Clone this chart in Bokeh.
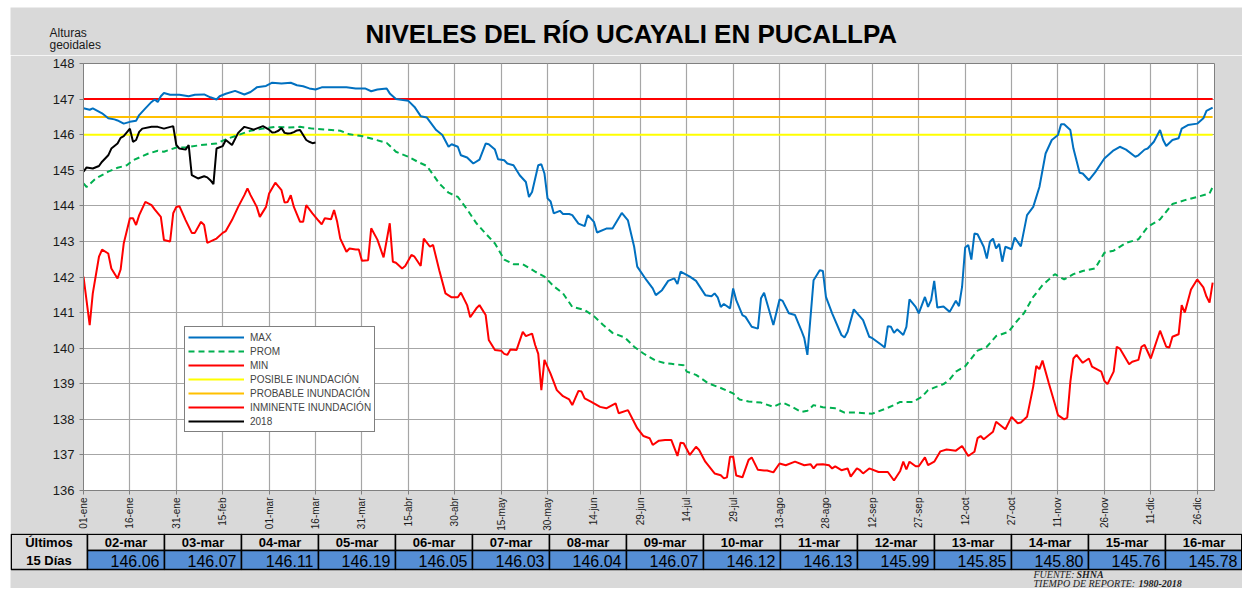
import math
from bokeh.plotting import figure
from bokeh.models import Range1d, FixedTicker, Legend, LegendItem
from bokeh.layouts import column
from bokeh.embed import file_html
from bokeh.resources import INLINE
from bokeh.core.properties import value

FONT = "Liberation Sans"
SERIF = "Liberation Serif"
BG = "#d9d9d9"

# ---------------- data ----------------
tick_days = list(range(0, 361, 15))
tick_labels = ["01-ene", "16-ene", "31-ene", "15-feb", "01-mar", "16-mar", "31-mar",
               "15-abr", "30-abr", "15-may", "30-may", "14-jun", "29-jun", "14-jul",
               "29-jul", "13-ago", "28-ago", "12-sep", "27-sep", "12-oct", "27-oct",
               "11-nov", "26-nov", "11-dic", "26-dic"]
y_ticks = list(range(136, 149))

max_days = [0, 2, 3, 6, 8, 10, 11, 13, 15, 17, 18, 20, 22, 23, 24, 25, 26, 28, 31, 34, 36, 39, 41, 43, 44,
            46, 49, 52, 54, 56, 59, 61, 64, 67, 69, 71, 73, 75, 77, 81, 85, 88, 91, 93, 95, 98, 99, 101,
            105, 107, 109, 111, 114, 116, 118, 119, 121, 122, 124, 126, 128, 130, 131, 133, 134, 136,
            137, 139, 141, 143, 144, 145, 147, 148, 149, 150, 151, 152, 154, 155, 157, 158, 160, 162,
            163, 165, 166, 169, 171, 174, 176, 178, 179, 182, 184, 185, 187, 189, 191, 192, 193, 196,
            198, 201, 203, 204, 205, 206, 207, 209, 210, 211, 213, 214, 216, 218, 219, 220, 223, 225,
            226, 228, 230, 232, 233, 234, 236, 238, 239, 240, 242, 245, 246, 247, 249, 252, 254, 255,
            258, 259, 260, 261, 262, 263, 265, 266, 267, 269, 270, 272, 273, 274, 275, 276, 278, 280,
            282, 283, 284, 285, 286, 287, 288, 289, 291, 292, 293, 294, 295, 296, 297, 298, 300, 301,
            303, 305, 307, 309, 311, 313, 315, 316, 317, 319, 320, 322, 323, 325, 327, 330, 333, 335,
            337, 340, 341, 343, 344, 346, 348, 349, 350, 352, 354, 355, 357, 360, 362, 363, 365]
max_vals = [146.74, 146.70, 146.74, 146.60, 146.46, 146.43, 146.40, 146.31, 146.36, 146.39, 146.55,
            146.74, 146.92, 146.99, 146.92, 147.08, 147.17, 147.12, 147.12, 147.08, 147.12, 147.13,
            147.05, 146.99, 147.08, 147.15, 147.23, 147.13, 147.20, 147.33, 147.37, 147.46, 147.44,
            147.46, 147.39, 147.36, 147.30, 147.27, 147.33, 147.33, 147.33, 147.30, 147.30, 147.22,
            147.27, 147.30, 147.16, 147.00, 146.95, 146.78, 146.52, 146.48, 146.13, 145.99, 145.66,
            145.73, 145.66, 145.42, 145.36, 145.19, 145.30, 145.75, 145.73, 145.58, 145.31, 145.28,
            145.19, 145.14, 144.86, 144.67, 144.25, 144.39, 145.14, 145.17, 144.91, 144.21, 144.12,
            143.79, 143.86, 143.77, 143.77, 143.74, 143.50, 143.43, 143.74, 143.55, 143.25, 143.36,
            143.36, 143.80, 143.59, 142.85, 142.29, 141.91, 141.68, 141.49, 141.63, 141.89, 141.96,
            141.80, 142.15, 142.01, 141.89, 141.49, 141.46, 141.54, 141.43, 141.16, 141.24, 141.12,
            141.68, 141.35, 140.93, 140.88, 140.60, 140.55, 141.40, 141.56, 140.65, 141.37, 141.33,
            140.98, 140.93, 140.51, 140.28, 139.81, 141.91, 142.19, 142.17, 141.44, 140.98, 140.37,
            140.30, 140.46, 141.09, 140.79, 140.32, 140.28, 140.09, 140.02, 140.62, 140.60, 140.43,
            140.53, 140.37, 140.60, 141.37, 141.16, 140.98, 141.44, 141.16, 141.35, 141.89, 141.14,
            141.17, 141.02, 141.33, 141.18, 141.72, 142.83, 142.90, 142.49, 143.22, 143.20, 142.85,
            142.52, 142.99, 143.08, 142.80, 142.93, 142.43, 142.85, 142.78, 143.11, 142.86, 143.74,
            143.97, 144.53, 145.47, 145.85, 145.99, 146.29, 146.29, 146.13, 145.61, 144.93, 144.91,
            144.72, 144.94, 145.33, 145.56, 145.66, 145.58, 145.38, 145.42, 145.58, 145.61, 145.80,
            146.13, 145.85, 145.68, 145.85, 145.90, 146.17, 146.27, 146.31, 146.46, 146.67, 146.76]

prom_days = [0, 1, 4, 8, 11, 14, 16, 21, 24, 26, 30, 33, 38, 43, 46, 50, 54, 58, 62, 66, 70, 74, 79, 83,
             86, 90, 93, 98, 101, 105, 108, 111, 115, 118, 121, 124, 127, 130, 133, 136, 139, 142, 146,
             149, 152, 155, 158, 162, 165, 168, 171, 175, 178, 181, 185, 188, 190, 194, 195, 198, 202,
             206, 210, 212, 215, 219, 223, 226, 229, 232, 234, 236, 239, 243, 246, 250, 253, 255, 259,
             262, 264, 268, 271, 273, 275, 278, 280, 282, 285, 289, 292, 295, 299, 302, 304, 307, 310,
             314, 317, 320, 323, 327, 330, 333, 337, 341, 344, 348, 352, 356, 360, 364, 365]
prom_vals = [144.63, 144.53, 144.77, 144.96, 145.07, 145.14, 145.28, 145.47, 145.55, 145.52, 145.64,
             145.64, 145.71, 145.75, 145.87, 145.99, 146.11, 146.17, 146.22, 146.20, 146.22, 146.17,
             146.14, 146.11, 146.01, 145.96, 145.89, 145.77, 145.52, 145.38, 145.24, 145.12, 144.63,
             144.37, 144.25, 143.90, 143.51, 143.22, 142.94, 142.49, 142.36, 142.36, 142.15, 142.01,
             141.74, 141.54, 141.16, 141.07, 140.90, 140.65, 140.43, 140.30, 140.04, 139.85, 139.65,
             139.58, 139.56, 139.52, 139.34, 139.25, 139.01, 138.88, 138.73, 138.56, 138.50, 138.47,
             138.35, 138.47, 138.35, 138.21, 138.24, 138.40, 138.34, 138.31, 138.19, 138.19, 138.17,
             138.16, 138.29, 138.40, 138.49, 138.49, 138.63, 138.82, 138.89, 138.99, 139.12, 139.34,
             139.49, 139.93, 140.04, 140.34, 140.46, 140.79, 140.98, 141.44, 141.77, 142.08, 141.93,
             142.08, 142.17, 142.24, 142.68, 142.74, 142.96, 143.06, 143.41, 143.62, 144.05, 144.16,
             144.25, 144.35, 144.53]

min_days = [0, 2, 3, 5, 6, 8, 9, 11, 12, 13, 15, 16, 17, 18, 20, 22, 23, 25, 26, 28, 29, 30, 31, 33, 35,
            36, 38, 39, 40, 43, 45, 46, 48, 50, 52, 53, 54, 56, 57, 59, 60, 62, 64, 65, 66, 67, 68, 70,
            71, 72, 74, 76, 77, 78, 80, 81, 82, 83, 85, 86, 88, 89, 90, 92, 93, 95, 97, 99, 100, 101,
            103, 104, 106, 107, 109, 110, 112, 113, 115, 117, 119, 121, 122, 124, 125, 127, 128, 130,
            131, 133, 135, 136, 137, 138, 140, 142, 143, 145, 146, 147, 148, 149, 151, 153, 155, 157,
            158, 160, 161, 162, 164, 167, 169, 172, 173, 176, 179, 181, 183, 184, 186, 188, 190, 192,
            193, 194, 196, 198, 199, 201, 204, 206, 207, 208, 209, 210, 211, 213, 215, 216, 218, 220,
            221, 223, 225, 227, 230, 233, 235, 236, 237, 239, 241, 242, 243, 245, 247, 248, 250, 251,
            252, 254, 257, 260, 262, 264, 265, 266, 267, 269, 270, 272, 273, 275, 277, 279, 282, 284,
            286, 288, 289, 290, 291, 294, 295, 298, 300, 302, 303, 305, 307, 308, 309, 310, 312, 314,
            315, 317, 318, 319, 320, 321, 323, 325, 326, 329, 330, 331, 333, 334, 335, 338, 339, 341,
            342, 343, 344, 345, 348, 350, 351, 352, 354, 355, 356, 358, 360, 362, 363, 364, 365]
min_vals = [142.01, 140.65, 141.54, 142.57, 142.77, 142.66, 142.24, 141.96, 142.21, 142.94, 143.65,
            143.65, 143.46, 143.74, 144.11, 144.02, 143.90, 143.69, 143.04, 143.00, 143.79, 143.97,
            143.99, 143.60, 143.24, 143.24, 143.55, 143.46, 142.96, 143.08, 143.24, 143.29, 143.60,
            143.97, 144.30, 144.49, 144.30, 143.97, 143.69, 143.97, 144.35, 144.65, 144.44, 144.09,
            144.11, 144.30, 143.97, 143.55, 143.55, 144.02, 143.79, 143.58, 143.48, 143.65, 143.62,
            143.88, 143.55, 143.08, 142.71, 142.80, 142.77, 142.77, 142.46, 142.47, 143.37, 143.05,
            142.55, 143.51, 142.43, 142.40, 142.24, 142.31, 142.62, 142.57, 142.31, 143.08, 142.85,
            142.90, 142.19, 141.54, 141.43, 141.43, 141.56, 141.21, 140.87, 141.12, 141.21, 140.93,
            140.23, 139.95, 139.93, 139.84, 139.81, 139.96, 139.95, 140.46, 140.34, 140.41, 140.09,
            139.84, 138.82, 139.67, 139.28, 138.82, 138.65, 138.56, 138.40, 138.80, 138.78, 138.59,
            138.50, 138.35, 138.31, 138.45, 138.17, 138.26, 137.75, 137.53, 137.47, 137.28, 137.40,
            137.42, 137.42, 136.97, 137.34, 137.33, 137.00, 137.23, 137.14, 136.81, 136.48, 136.43,
            136.34, 136.37, 136.95, 136.95, 136.42, 136.37, 136.86, 136.93, 136.58, 136.56, 136.56,
            136.51, 136.76, 136.71, 136.81, 136.71, 136.74, 136.62, 136.73, 136.74, 136.71, 136.62,
            136.68, 136.57, 136.62, 136.39, 136.62, 136.57, 136.48, 136.62, 136.52, 136.52, 136.28,
            136.55, 136.81, 136.59, 136.81, 136.68, 136.68, 136.93, 136.71, 136.81, 137.10, 137.15,
            137.12, 137.25, 136.97, 137.09, 137.47, 137.53, 137.44, 137.65, 137.93, 137.72, 138.07,
            137.89, 137.91, 138.07, 138.92, 139.50, 139.41, 139.65, 139.03, 138.43, 138.12, 138.00,
            138.05, 139.05, 139.71, 139.81, 139.59, 139.71, 139.48, 139.34, 139.08, 138.99, 139.34,
            140.04, 139.99, 139.55, 139.62, 139.67, 140.04, 140.09, 139.90, 139.71, 140.49, 140.04,
            140.02, 140.32, 140.39, 141.21, 141.00, 141.65, 141.93, 141.71, 141.45, 141.28, 141.84]

# 2018 observed levels up to 01-mar, then the last 15 days (table)
y2018_days_early = [0, 1, 3, 5, 6, 8, 9, 11, 12, 13, 15, 16, 17, 18, 19, 22, 24, 26, 29, 30, 31, 33, 34,
                    35, 37, 39, 40, 41, 42, 43, 45, 46, 48, 50, 52, 54, 55, 58, 60]
y2018_vals_early = [144.96, 145.08, 145.05, 145.12, 145.24, 145.42, 145.61, 145.75, 145.91, 145.96,
                    146.17, 145.80, 145.85, 146.08, 146.17, 146.22, 146.22, 146.17, 146.24, 145.71,
                    145.61, 145.58, 145.71, 144.86, 144.77, 144.83, 144.80, 144.72, 144.61, 145.61,
                    145.68, 145.85, 145.71, 146.05, 146.22, 146.17, 146.14, 146.24, 146.14]
table_dates = ["02-mar", "03-mar", "04-mar", "05-mar", "06-mar", "07-mar", "08-mar", "09-mar",
               "10-mar", "11-mar", "12-mar", "13-mar", "14-mar", "15-mar", "16-mar"]
table_days = list(range(61, 76))
table_values = [146.06, 146.07, 146.11, 146.19, 146.05, 146.03, 146.04, 146.07,
                146.12, 146.13, 145.99, 145.85, 145.80, 145.76, 145.78]

thresholds = [146.0, 146.5, 147.0]
threshold_names = ["POSIBLE INUNDACIÓN", "PROBABLE INUNDACIÓN", "INMINENTE INUNDACIÓN"]
threshold_colors = ["#FFFF00", "#FFC000", "#FF0000"]

W = 1232


def plain_fig(height):
    f = figure(width=W, height=height, x_range=Range1d(0, W), y_range=Range1d(height, 0),
               output_backend="svg", toolbar_location=None, min_border=0,
               x_axis_location=None, y_axis_location=None, frame_align=False)
    f.background_fill_color = BG
    f.border_fill_color = BG
    f.outline_line_color = None
    f.grid.visible = False
    return f


# ---------------- header ----------------
h = plain_fig(48)
h.text(x=[621], y=[26.5], text=["NIVELES DEL RÍO UCAYALI EN PUCALLPA"], text_align="center",
       text_baseline="middle", text_font=value(FONT), text_font_size="26px",
       text_font_style="bold", text_color="black")
h.text(x=[39, 39], y=[25.7, 37.5], text=["Alturas", "geoidales"], text_align="left",
       text_baseline="middle", text_font=value(FONT), text_font_size="12px", text_color="#1a1a1a")

# ---------------- chart ----------------
p = figure(width=W, height=478, x_range=Range1d(0, 365.6), y_range=Range1d(136, 148),
           output_backend="svg", toolbar_location=None, frame_align=False,
           min_border_left=73, min_border_right=28, min_border_top=8, min_border_bottom=43)
p.background_fill_color = "white"
p.border_fill_color = BG
p.outline_line_color = "#808080"
p.outline_line_width = 1

p.xaxis.ticker = FixedTicker(ticks=tick_days)
p.xaxis.major_label_overrides = {d: l for d, l in zip(tick_days, tick_labels)}
p.xaxis.major_label_orientation = math.pi / 2
p.xaxis.major_label_text_font_size = "10px"
p.xaxis.major_label_standoff = 3
p.yaxis.ticker = FixedTicker(ticks=y_ticks)
p.yaxis.major_label_text_font_size = "13px"
p.yaxis.major_label_standoff = 5
for ax in (p.xaxis[0], p.yaxis[0]):
    ax.major_label_text_font = FONT
    ax.major_label_text_color = "#1a1a1a"
    ax.axis_line_color = "#808080"
    ax.major_tick_line_color = "#808080"
    ax.major_tick_out = 4
    ax.major_tick_in = 0
    ax.minor_tick_line_color = None
p.xgrid.ticker = FixedTicker(ticks=tick_days)
p.ygrid.ticker = FixedTicker(ticks=y_ticks)
p.grid.grid_line_color = "#a6a6a6"
p.grid.grid_line_width = 1.2

x_lo, x_hi = min(max_days), max(max_days)
thr_renderers = []
for th, col in zip(thresholds, threshold_colors):
    thr_renderers.append(p.line([x_lo, x_hi], [th, th], line_color=col, line_width=2))

r_prom = p.line(prom_days, prom_vals, line_color="#00B050", line_width=2, line_dash="6 4")
r_min = p.line(min_days, min_vals, line_color="#FF0000", line_width=2)
r_max = p.line(max_days, max_vals, line_color="#0070C0", line_width=2)
r_2018 = p.line(y2018_days_early + table_days, y2018_vals_early + table_values,
                line_color="black", line_width=2)

items = [LegendItem(label="MAX", renderers=[r_max]),
         LegendItem(label="PROM", renderers=[r_prom]),
         LegendItem(label="MIN", renderers=[r_min])]
for name, r in zip(threshold_names, thr_renderers):
    items.append(LegendItem(label=name, renderers=[r]))
items.append(LegendItem(label="2018", renderers=[r_2018]))
legend = Legend(items=items, location=(101, 58))
legend.label_text_font = FONT
legend.label_text_font_size = "10px"
legend.label_height = 14
legend.glyph_height = 14
legend.glyph_width = 56
legend.label_standoff = 6
legend.spacing = 0
legend.padding = 3
legend.margin = 0
legend.border_line_color = "black"
legend.border_line_width = 1
legend.background_fill_color = "white"
legend.background_fill_alpha = 1
p.add_layout(legend)

# ---------------- table ----------------
t = plain_fig(55)
first_l, first_r, cw = 0, 77, 77
hdr_t, hdr_b, val_b = 0, 17, 36
lefts = [first_r + i * cw for i in range(len(table_dates))]
rights = [l + cw for l in lefts]
rights_draw = [r - 0.75 if i == len(rights) - 1 else r for i, r in enumerate(rights)]
t.quad(left=[first_l + 0.75], right=[first_r], top=[hdr_t + 0.75], bottom=[val_b],
       fill_color=BG, line_color="black", line_width=1.5)
t.quad(left=lefts, right=rights_draw, top=[hdr_t + 0.75] * len(lefts), bottom=[hdr_b] * len(lefts),
       fill_color=BG, line_color="black", line_width=1.5)
t.quad(left=lefts, right=rights_draw, top=[hdr_b] * len(lefts), bottom=[val_b] * len(lefts),
       fill_color="#558ED5", line_color="black", line_width=1.5)
t.text(x=[(l + r) / 2 for l, r in zip(lefts, rights)], y=[(hdr_t + hdr_b) / 2 + 0.5] * len(lefts),
       text=table_dates, text_align="center", text_baseline="middle",
       text_font=value(FONT), text_font_size="13px", text_font_style="bold", text_color="black")
t.text(x=[r - 5 for r in rights], y=[(hdr_b + val_b) / 2 + 0.5] * len(lefts),
       text=[f"{v:.2f}" for v in table_values], text_align="right", text_baseline="middle",
       text_font=value(FONT), text_font_size="16px", text_color="black")
t.text(x=[(first_l + first_r) / 2] * 2, y=[(hdr_t + hdr_b) / 2 + 0.5, (hdr_b + val_b) / 2 + 0.5],
       text=["Últimos", "15 Días"], text_align="center", text_baseline="middle",
       text_font=value(FONT), text_font_size="13px", text_font_style="bold", text_color="black")
foot_y1, foot_y2 = 40.5, 49.5
t.text(x=[1023], y=[foot_y1], text=["FUENTE:"], text_align="left", text_baseline="alphabetic",
       text_font=value(SERIF), text_font_size="10px", text_font_style="italic", text_color="#222222")
t.text(x=[1066], y=[foot_y1], text=["SHNA"], text_align="left", text_baseline="alphabetic",
       text_font=value(SERIF), text_font_size="10px", text_font_style="bold italic", text_color="#222222")
t.text(x=[1023], y=[foot_y2], text=["TIEMPO DE REPORTE:"], text_align="left", text_baseline="alphabetic",
       text_font=value(SERIF), text_font_size="10px", text_font_style="italic", text_color="#222222")
t.text(x=[1128], y=[foot_y2], text=["1980-2018"], text_align="left", text_baseline="alphabetic",
       text_font=value(SERIF), text_font_size="10px", text_font_style="bold italic", text_color="#222222")

layout = column(h, p, t, spacing=0, margin=(7, 0, 0, 10))
open("out.html", "w").write(file_html(layout, INLINE))
